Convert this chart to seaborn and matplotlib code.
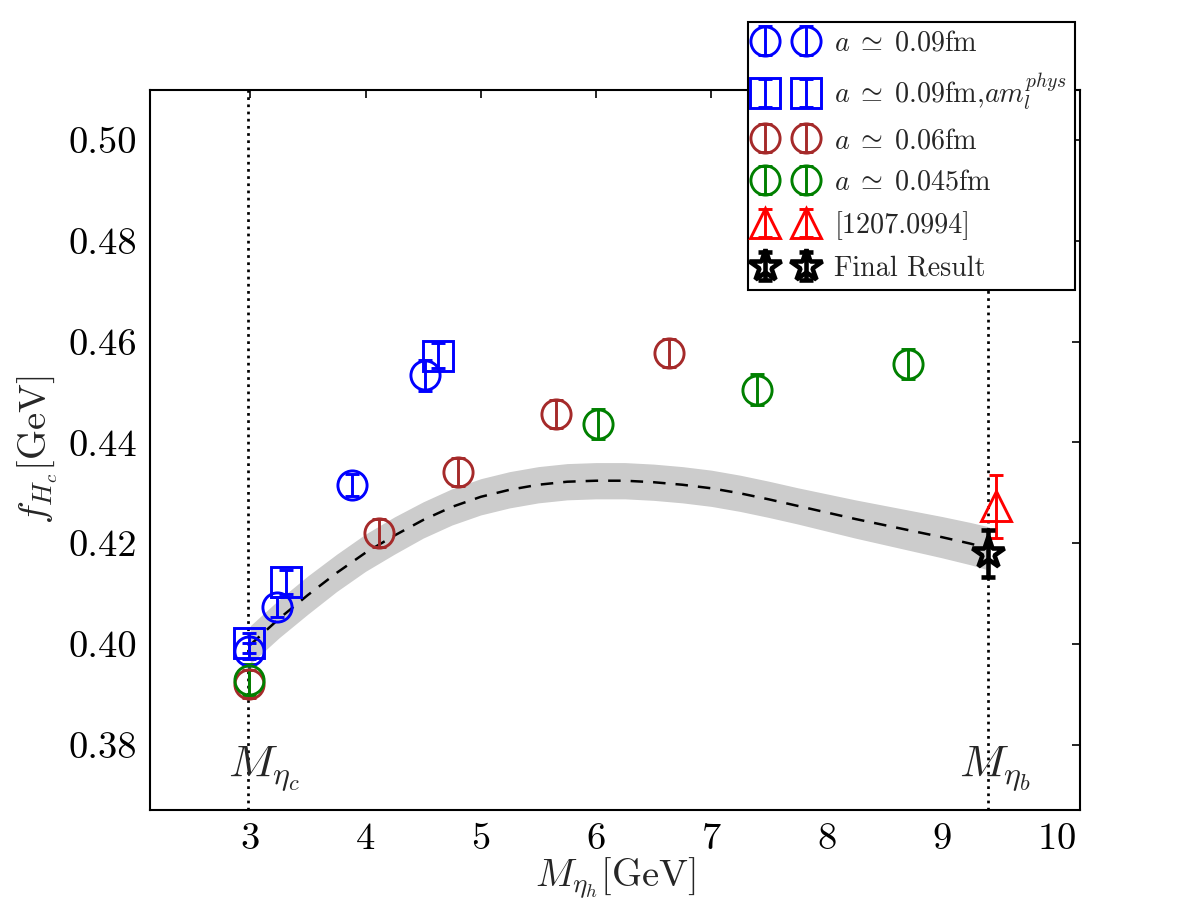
import numpy as np
import matplotlib
matplotlib.use("Agg")
import matplotlib.pyplot as plt
import seaborn as sns
from matplotlib.ticker import FormatStrFormatter

# data
blue_c_x = [2.99, 3.23, 3.88, 4.52]
blue_c_y = [0.3986, 0.4073, 0.4315, 0.4533]
blue_c_e = [0.0016, 0.0020, 0.0022, 0.0030]

blue_s_x = [2.99, 3.31, 4.63]
blue_s_y = [0.4002, 0.4123, 0.4572]
blue_s_e = [0.0020, 0.0024, 0.0025]

brown_x = [2.99, 4.12, 4.80, 5.65, 6.63]
brown_y = [0.3921, 0.4220, 0.4341, 0.4457, 0.4578]
brown_e = [0.0028, 0.0028, 0.0028, 0.0028, 0.0028]

green_x = [2.99, 6.02, 7.40, 8.71]
green_y = [0.3929, 0.4436, 0.4505, 0.4556]
green_e = [0.0030, 0.0030, 0.0030, 0.0030]

ref_x = [9.47]
ref_y = [0.4273]
ref_e = [0.0062]

final_x = [9.40]
final_y = [0.4180]
final_e = [0.0047]

curve_x = [3.0, 3.25, 3.5, 3.75, 4.0, 4.25, 4.5, 4.75, 5.0, 5.25, 5.5, 5.75, 6.0, 6.25,
           6.5, 6.75, 7.0, 7.25, 7.5, 7.75, 8.0, 8.25, 8.5, 8.75, 9.0, 9.25, 9.4]
curve_y = [0.3998, 0.4050, 0.4097, 0.4141, 0.4181, 0.4215, 0.4246, 0.4272, 0.4292, 0.4306,
           0.4316, 0.4322, 0.4324, 0.4324, 0.4321, 0.4316, 0.4309, 0.4299, 0.4287, 0.4274,
           0.4261, 0.4248, 0.4236, 0.4224, 0.4212, 0.4199, 0.4190]
curve_err = [0.0038, 0.0038, 0.0038, 0.0037, 0.0037, 0.0037, 0.0036, 0.0036, 0.0036, 0.0036,
             0.0036, 0.0036, 0.0036, 0.0036, 0.0036, 0.0036, 0.0036, 0.0036, 0.0036, 0.0036,
             0.0037, 0.0038, 0.0039, 0.0040, 0.0041, 0.0042, 0.0043]

m_etac = 2.984
m_etab = 9.399

sns.set_style("white")
plt.rcParams["font.family"] = "serif"
plt.rcParams["font.serif"] = ["cmr10", "DejaVu Serif"]
plt.rcParams["mathtext.fontset"] = "cm"
plt.rcParams["axes.formatter.use_mathtext"] = True

fig, ax = plt.subplots(figsize=(8, 6), dpi=150)
fig.subplots_adjust(left=0.125, right=0.9, bottom=0.1, top=0.9)

lo = np.array(curve_y) - np.array(curve_err)
hi = np.array(curve_y) + np.array(curve_err)
ax.fill_between(curve_x, lo, hi, color="#cccccc", lw=0, zorder=1)
sns.lineplot(x=curve_x, y=curve_y, ax=ax, color="k", lw=1.2, zorder=2)
ax.lines[-1].set_dashes((5, 4))

ax.axvline(m_etac, color="k", ls=":", lw=1.3, zorder=1)
ax.axvline(m_etab, color="k", ls=":", lw=1.3, zorder=1)

kw = dict(ls="none", mfc="none", ms=14, mew=1.4, elinewidth=1.4, capsize=3.5, capthick=1.4, zorder=3)
ax.errorbar(blue_c_x, blue_c_y, yerr=blue_c_e, marker="o", color="b", mec="b",
            label=r"$a\;\simeq\;0.09$fm", **kw)
ax.errorbar(blue_s_x, blue_s_y, yerr=blue_s_e, marker="s", color="b", mec="b",
            label=r"$a\;\simeq\;0.09$fm,$am_l^{phys}$", **kw)
ax.errorbar(brown_x, brown_y, yerr=brown_e, marker="o", color="brown", mec="brown",
            label=r"$a\;\simeq\;0.06$fm", **kw)
ax.errorbar(green_x, green_y, yerr=green_e, marker="o", color="g", mec="g",
            label=r"$a\;\simeq\;0.045$fm", **kw)
ax.errorbar(ref_x, ref_y, yerr=ref_e, marker="^", color="r", mec="r",
            label="[1207.0994]", **kw)
ax.errorbar(final_x, final_y, yerr=final_e, marker="*", color="k", mec="k", ls="none",
            mfc="none", ms=16, mew=2.2, elinewidth=2.2, capsize=3.5, capthick=2.2, zorder=4,
            label="Final Result")

ax.text(3.12, 0.3752, r"$M_{\eta_c}$", fontsize=22, ha="center", va="center")
ax.text(9.46, 0.3752, r"$M_{\eta_b}$", fontsize=22, ha="center", va="center")

ax.set_xlim(2.13, 10.2)
ax.set_ylim(0.367, 0.51)
ax.set_xticks([3, 4, 5, 6, 7, 8, 9, 10])
ax.set_yticks([0.38, 0.40, 0.42, 0.44, 0.46, 0.48, 0.50])
ax.yaxis.set_major_formatter(FormatStrFormatter("%.2f"))
ax.tick_params(direction="in", top=True, right=True, length=4, width=0.8,
               labelsize=18.5, pad=6, colors="k")
for s in ax.spines.values():
    s.set_linewidth(1.0)
    s.set_color("k")

ax.set_xlabel(r"$M_{\eta_h}$[GeV]", fontsize=18.5, labelpad=0)
ax.set_ylabel(r"$f_{H_c}$[GeV]", fontsize=18.5, labelpad=4)

leg = ax.legend(loc="upper right", bbox_to_anchor=(0.995, 1.095), borderaxespad=0,
                numpoints=2, fontsize=13.5, handlelength=2.06, labelspacing=0.55,
                handletextpad=0.7, borderpad=0.3, fancybox=False, framealpha=1)
leg.get_frame().set_edgecolor("k")
leg.get_frame().set_linewidth(1.0)

fig.savefig("out.png", dpi=150)
